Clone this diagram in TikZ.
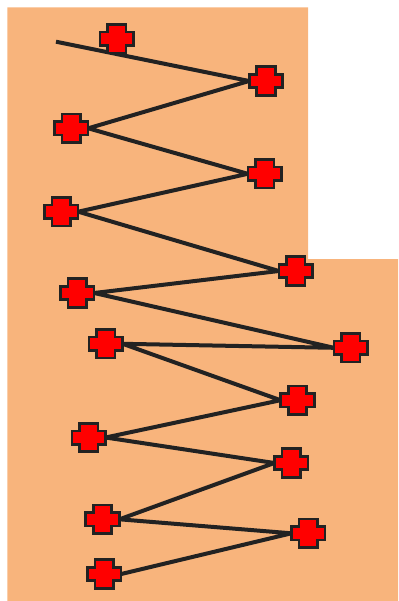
\documentclass[tikz,border=0pt]{standalone}
\definecolor{bgorange}{HTML}{F8B47C}
\definecolor{ink}{HTML}{222222}
\begin{document}
\begin{tikzpicture}[x=1pt,y=-1pt,
  crossbox/.style={inner sep=0pt,minimum width=33.5pt,minimum height=13pt},
  link/.style={draw=ink,line width=4pt},
  crossshape/.style={draw=ink,fill=red,line width=2.6pt,line join=miter}]
\useasboundingbox (0,0) rectangle (398,601);
\fill[bgorange] (7.3,7.3) -- (308,7.3) -- (308,259) -- (398,259) -- (398,601) -- (7.3,601) -- cycle;
\node[crossbox] (A)  at (116.7,38.7) {};
\node[crossbox] (R1) at (266,81) {};
\node[crossbox] (L2) at (71.3,128.3) {};
\node[crossbox] (R2) at (264.7,173.8) {};
\node[crossbox] (L3) at (61.3,211.7) {};
\node[crossbox] (R3) at (295.8,271) {};
\node[crossbox] (L4) at (77.3,293) {};
\node[crossbox] (R4) at (350.8,347.8) {};
\node[crossbox] (L5) at (105.7,343.8) {};
\node[crossbox] (R5) at (297.5,400.2) {};
\node[crossbox] (L6) at (88.7,437.5) {};
\node[crossbox] (R6) at (291.3,463) {};
\node[crossbox] (L7) at (102.5,519.3) {};
\node[crossbox] (R7) at (308.3,533.3) {};
\node[crossbox] (L8) at (104.3,574) {};
\coordinate (start) at (56,41.7);
\draw[link] (start) -- (R1.west) -- (L2.east) -- (R2.west) -- (L3.east) -- (R3.west) -- (L4.east) -- (R4.west) -- (L5.east) -- (R5.west) -- (L6.east) -- (R6.west) -- (L7.east) -- (R7.west) -- (L8.east);
\foreach \n in {A,R1,L2,R2,L3,R3,L4,R4,L5,R5,L6,R6,L7,R7,L8}{
  \begin{scope}[shift={(\n.center)}]
    \draw[crossshape] (-9.25,-14.25) -- (9.25,-14.25) -- (9.25,-6.7) -- (16.75,-6.7) -- (16.75,6.7) -- (9.25,6.7) -- (9.25,14.25) -- (-9.25,14.25) -- (-9.25,6.7) -- (-16.75,6.7) -- (-16.75,-6.7) -- (-9.25,-6.7) -- cycle;
  \end{scope}
}
\end{tikzpicture}
\end{document}
